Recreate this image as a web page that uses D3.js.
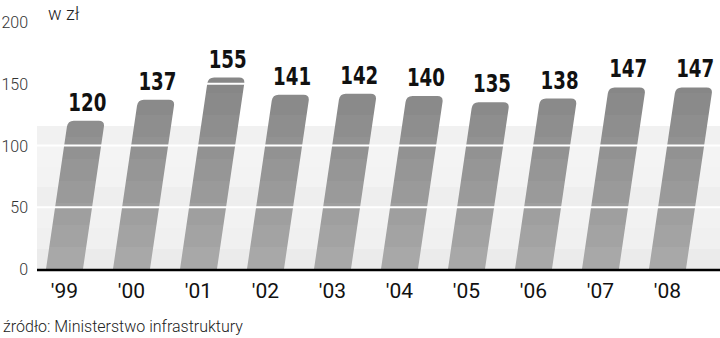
<!DOCTYPE html>
<html>
<head>
<meta charset="utf-8">
<script src="https://cdn.jsdelivr.net/npm/d3@7"></script>
<style>
  body { margin: 0; background: #fff; }
  svg { display: block; }
  .tick-y { font-family: Roboto, "Liberation Sans", sans-serif; font-weight: 300; font-size: 16px; fill: #333; }
  .tick-x { font-family: Roboto, "Liberation Sans", sans-serif; font-weight: 400; font-size: 21px; fill: #111; }
  .val { font-family: "DejaVu Sans Condensed", "Liberation Sans", sans-serif; font-weight: bold; font-size: 25px; fill: #111; }
  .note { font-family: Roboto, "Liberation Sans", sans-serif; font-weight: 300; fill: #222; }
</style>
</head>
<body>
<svg id="chart"></svg>
<script>
var width = 720, height = 338;

// data
var years = ["'99", "'00", "'01", "'02", "'03", "'04", "'05", "'06", "'07", "'08"];
var prices = [120, 137, 155, 141, 142, 140, 135, 138, 147, 147];
var yTicks = [0, 50, 100, 150, 200];
var gridValues = [50, 100, 150];

var slant = 0.147; // bars lean to the right
var radius = 6;

var svg = d3.select("#chart")
    .attr("width", width)
    .attr("height", height);

var y = d3.scaleLinear().domain([0, 200]).range([269, 22]);
var x = d3.scaleBand().domain(years).range([16, 716]).padding(0.448);

var defs = svg.append("defs");

// stepped grey for the bars, darker on top
var barGrad = defs.append("linearGradient")
    .attr("id", "barGrad")
    .attr("gradientUnits", "userSpaceOnUse")
    .attr("x1", 0).attr("x2", 0)
    .attr("y1", y(160)).attr("y2", y(0));
var barSteps = ["#878787", "#8a8a8a", "#8e8e8e", "#929292", "#969696", "#9a9a9a", "#9f9f9f", "#a3a3a3", "#a8a8a8"];
barSteps.forEach(function (c, i) {
    barGrad.append("stop").attr("offset", i / barSteps.length).attr("stop-color", c);
    barGrad.append("stop").attr("offset", (i + 1) / barSteps.length).attr("stop-color", c);
});

// background panel stripes
var bgGrad = defs.append("linearGradient")
    .attr("id", "bgGrad")
    .attr("gradientUnits", "userSpaceOnUse")
    .attr("x1", 0).attr("x2", 0)
    .attr("y1", 126).attr("y2", y(0));
var bgSteps = ["#f1f1f1", "#f4f4f4", "#f3f3f3", "#eeeeee", "#f2f2f2", "#f0f0f0", "#ebebeb"];
bgSteps.forEach(function (c, i) {
    bgGrad.append("stop").attr("offset", i / bgSteps.length).attr("stop-color", c);
    bgGrad.append("stop").attr("offset", (i + 1) / bgSteps.length).attr("stop-color", c);
});

svg.append("rect")
    .attr("x", 37).attr("y", 126)
    .attr("width", width - 37).attr("height", y(0) - 126)
    .attr("fill", "url(#bgGrad)");

function barPath(d, i) {
    var x0 = x(years[i]);
    var w = x.bandwidth();
    var yb = y(0), yt = y(d);
    var h = yb - yt;
    var dx = h * slant;
    var tl = x0 + dx, tr = x0 + w + dx;
    var r = radius;
    return "M" + x0 + "," + yb +
        "L" + (tl - r * slant) + "," + (yt + r) +
        "Q" + tl + "," + yt + " " + (tl + r) + "," + yt +
        "L" + (tr - r) + "," + yt +
        "Q" + tr + "," + yt + " " + (tr - r * slant) + "," + (yt + r) +
        "L" + (x0 + w) + "," + yb + "Z";
}

svg.append("g")
    .selectAll("path")
    .data(prices)
    .enter().append("path")
    .attr("d", barPath)
    .attr("fill", "url(#barGrad)");

// white grid lines run over the bars
svg.append("g")
    .selectAll("line")
    .data(gridValues)
    .enter().append("line")
    .attr("x1", 37).attr("x2", width)
    .attr("y1", function (d) { return y(d); })
    .attr("y2", function (d) { return y(d); })
    .attr("stroke", "#fff")
    .attr("stroke-width", 2);

// value labels, squeezed horizontally for a condensed look
svg.append("g")
    .selectAll("text")
    .data(prices)
    .enter().append("text")
    .attr("class", "val")
    .attr("text-anchor", "middle")
    .attr("transform", function (d, i) {
        var cx = x(years[i]) + x.bandwidth() / 2 + (y(0) - y(d)) * slant + 1;
        return "translate(" + cx + "," + (y(d) - 10) + ") scale(0.81,1)";
    })
    .text(function (d) { return d; });

// baseline
svg.append("line")
    .attr("x1", 37).attr("x2", width)
    .attr("y1", y(0) + 1).attr("y2", y(0) + 1)
    .attr("stroke", "#000")
    .attr("stroke-width", 2.5);

// y labels
svg.append("g")
    .selectAll("text")
    .data(yTicks)
    .enter().append("text")
    .attr("class", "tick-y")
    .attr("text-anchor", "end")
    .attr("x", 28)
    .attr("y", function (d) { return y(d) + 6; })
    .text(function (d) { return d; });

// x labels
svg.append("g")
    .selectAll("text")
    .data(years)
    .enter().append("text")
    .attr("class", "tick-x")
    .attr("text-anchor", "middle")
    .attr("x", function (d) { return x(d) + x.bandwidth() / 2; })
    .attr("y", 298)
    .text(function (d) { return d; });

svg.append("text")
    .attr("class", "note")
    .attr("x", 48).attr("y", 20)
    .style("font-size", "18px")
    .text("w zł");

svg.append("text")
    .attr("class", "note")
    .attr("x", 3).attr("y", 332)
    .style("font-size", "16px")
    .text("źródło: Ministerstwo infrastruktury");
</script>
</body>
</html>
